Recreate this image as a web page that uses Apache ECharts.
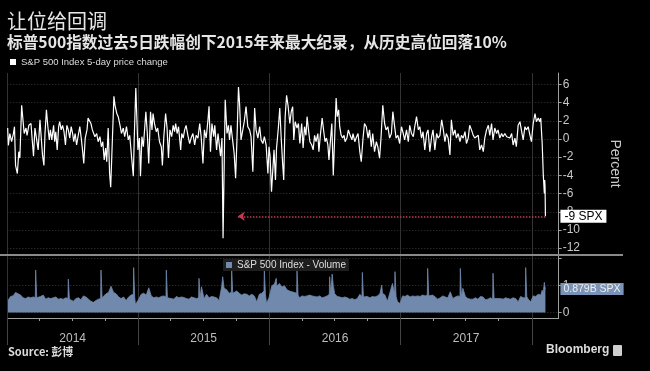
<!DOCTYPE html>
<html><head><meta charset="utf-8">
<script src="https://cdn.jsdelivr.net/npm/echarts@6/dist/echarts.min.js"></script>
<style>html,body{margin:0;padding:0;background:#000;}#c{width:650px;height:371px;}</style>
</head><body><div id="c"></div>
<script>
const titleText = '让位给回调';
const subtitleText = '标普500指数过去5日跌幅创下2015年来最大纪录，从历史高位回落10%';
const lineName = 'S&P 500 Index 5-day price change';
const volName = 'S&P 500 Index - Volume';
const sourceText = 'Source: 彭博';
const brandText = 'Bloomberg';
const pctLabelText = '-9 SPX';
const volLabelText = '0.879B SPX';
const axisName = 'Percent';

const xMin = '2014-01-01';
const xMax = '2018-03-17';
const yearStarts = ['2014-01-01','2015-01-01','2016-01-01','2017-01-01','2018-01-01'];
const yearLabelDates = ['2014-07-02','2015-07-02','2016-07-02','2017-07-02'];
const yearLabels = ['2014','2015','2016','2017'];
const quarterTicks = ['2014-04-01','2014-07-01','2014-10-01','2015-04-01','2015-07-01','2015-10-01',
  '2016-04-01','2016-07-01','2016-10-01','2017-04-01','2017-07-01','2017-10-01'];
const pctTicks = [-12,-10,-8,-6,-4,-2,0,2,4,6];
const volTicks = [0,1,2];
const volLabelTicks = [0,1];
const arrowEndDate = '2015-10-05';
const volLabelAnchorDate = '2018-01-20';

const pct2014 = [
['2014-01-02',1.2],['2014-01-04',-0.7],['2014-01-08',0.6],['2014-01-13',-0.3],['2014-01-18',0.6],['2014-01-21',1.35],['2014-01-24',-2.9],['2014-01-29',-3.8],['2014-02-02',-1.4],['2014-02-05',-2.1],['2014-02-10',3.7],['2014-02-12',3.9],['2014-02-17',0.6],['2014-02-22',1.2],['2014-02-25',0.4],['2014-03-02',1.5],['2014-03-08',1.7],['2014-03-11',0.1],['2014-03-15',-1.9],['2014-03-19',1.2],['2014-03-23',1.35],['2014-03-28',-1.2],['2014-04-02',2.1],['2014-04-04',1.0],['2014-04-09',-1.75],['2014-04-13',-2.9],['2014-04-16',0.6],['2014-04-20',3.2],['2014-04-24',1.35],['2014-04-28',-0.1],['2014-05-01',1.0],['2014-05-05',-0.1],['2014-05-10',1.5],['2014-05-13',-0.3],['2014-05-16',0.8],['2014-05-20',-1.2],['2014-05-24',1.35],['2014-05-27',1.9],['2014-05-31',1.0],['2014-06-04',1.5],['2014-06-08',0.8],['2014-06-12',-0.66],['2014-06-16',1.5],['2014-06-20',1.0],['2014-06-24',0.1],['2014-06-28',1.35],['2014-07-02',0.6],['2014-07-05',-0.3],['2014-07-09',0.6],['2014-07-13',-0.66],['2014-07-17',0.25],['2014-07-22',1.35],['2014-07-26',0.1],['2014-07-30',-1.4],['2014-08-02',-2.7],['2014-08-06',0.1],['2014-08-11',1.0],['2014-08-14',2.3],['2014-08-18',2.5],['2014-08-22',1.7],['2014-08-26',1.0],['2014-08-29',1.2],['2014-09-02',0.25],['2014-09-07',0.6],['2014-09-11',-0.3],['2014-09-16',0.25],['2014-09-20',-0.85],['2014-09-24',-0.3],['2014-09-28',-2.3],['2014-10-02',-1.0],['2014-10-05',-2.5],['2014-10-09',1.2],['2014-10-13',-3.8],['2014-10-16',-5.3],['2014-10-20',-0.85],['2014-10-25',4.7],['2014-10-28',3.7],['2014-11-02',2.8],['2014-11-06',2.45],['2014-11-11',1.5],['2014-11-15',0.6],['2014-11-20',1.2],['2014-11-24',0.25],['2014-11-29',1.35],['2014-12-04',-0.1],['2014-12-08',0.4],['2014-12-13',-1.9],['2014-12-18',-4.1],['2014-12-21',0.6],['2014-12-25',5.6],['2014-12-29',1.0],['2014-12-31',-1.2]
];
const pct2015 = [
['2015-01-04',0.1],['2015-01-07',-4.1],['2015-01-11',0.25],['2015-01-15',-0.85],['2015-01-19',1.35],['2015-01-22',3.0],['2015-01-26',0.6],['2015-01-30',-2.7],['2015-02-04',3.0],['2015-02-08',1.0],['2015-02-11',2.8],['2015-02-15',1.7],['2015-02-20',0.8],['2015-02-24',1.2],['2015-03-01',-0.3],['2015-03-06',-0.85],['2015-03-09',-2.9],['2015-03-13',0.25],['2015-03-18',2.8],['2015-03-22',1.2],['2015-03-26',-2.1],['2015-03-30',1.0],['2015-04-04',0.25],['2015-04-08',1.5],['2015-04-12',0.8],['2015-04-15',1.7],['2015-04-19',0.6],['2015-04-23',1.35],['2015-04-29',-1.2],['2015-05-02',0.6],['2015-05-06',0.1],['2015-05-10',1.0],['2015-05-14',1.5],['2015-05-19',0.4],['2015-05-24',-0.5],['2015-05-28',0.1],['2015-06-02',0.6],['2015-06-07',-0.66],['2015-06-11',0.4],['2015-06-16',0.1],['2015-06-21',1.7],['2015-06-25',0.25],['2015-06-30',-2.7],['2015-07-04',1.0],['2015-07-09',0.1],['2015-07-14',2.1],['2015-07-17',3.6],['2015-07-21',-1.4],['2015-07-25',1.7],['2015-07-30',0.25],['2015-08-02',1.5],['2015-08-07',-1.2],['2015-08-11',0.6],['2015-08-14',0.8],['2015-08-18',-1.9],['2015-08-22',0.1],['2015-08-25',-10.9],['2015-08-31',4.3],['2015-09-05',0.6],['2015-09-09',1.5],['2015-09-12',-0.1],['2015-09-16',1.5],['2015-09-20',0.1],['2015-09-25',-1.6],['2015-09-29',-4.3],['2015-10-03',0.25],['2015-10-07',5.7],['2015-10-10',3.9],['2015-10-14',-0.1],['2015-10-19',1.0],['2015-10-23',1.9],['2015-10-28',3.55],['2015-11-02',1.35],['2015-11-07',1.0],['2015-11-11',0.25],['2015-11-16',-3.6],['2015-11-21',3.4],['2015-11-25',1.0],['2015-11-30',0.1],['2015-12-05',1.35],['2015-12-09',-0.1],['2015-12-14',-0.5],['2015-12-18',0.25],['2015-12-23',-0.66],['2015-12-28',-3.8],['2015-12-31',-0.85]
];
const pct2016 = [
['2016-01-03',-1.9],['2016-01-07',-5.8],['2016-01-10',-3.8],['2016-01-14',-1.2],['2016-01-18',-4.5],['2016-01-21',-1.0],['2016-01-26',1.2],['2016-01-30',3.4],['2016-02-03',0.1],['2016-02-07',-2.7],['2016-02-10',-4.5],['2016-02-14',2.45],['2016-02-18',4.8],['2016-02-22',3.7],['2016-02-27',1.7],['2016-03-02',3.0],['2016-03-06',3.55],['2016-03-09',-0.1],['2016-03-13',1.9],['2016-03-18',1.2],['2016-03-22',1.7],['2016-03-26',-0.5],['2016-03-31',1.7],['2016-04-04',-1.0],['2016-04-08',1.35],['2016-04-12',0.4],['2016-04-15',2.45],['2016-04-19',1.0],['2016-04-23',-0.3],['2016-04-28',-0.66],['2016-05-02',-1.2],['2016-05-06',0.4],['2016-05-10',-0.3],['2016-05-15',0.6],['2016-05-18',-1.4],['2016-05-22',0.4],['2016-05-27',2.3],['2016-05-31',2.1],['2016-06-04',-0.3],['2016-06-08',0.1],['2016-06-12',-0.66],['2016-06-15',-2.3],['2016-06-20',0.25],['2016-06-23',1.7],['2016-06-27',-4.0],['2016-07-01',0.25],['2016-07-05',4.5],['2016-07-08',2.45],['2016-07-12',3.2],['2016-07-15',1.35],['2016-07-19',0.4],['2016-07-23',0.1],['2016-07-27',0.4],['2016-07-30',-0.3],['2016-08-04',0.1],['2016-08-08',1.0],['2016-08-13',0.4],['2016-08-18',-0.1],['2016-08-21',0.6],['2016-08-26',-0.3],['2016-08-31',0.25],['2016-09-04',0.6],['2016-09-09',-1.4],['2016-09-13',-2.5],['2016-09-18',0.1],['2016-09-22',1.7],['2016-09-27',1.35],['2016-10-02',0.1],['2016-10-06',1.0],['2016-10-11',-0.85],['2016-10-15',0.6],['2016-10-20',-1.4],['2016-10-25',-0.3],['2016-10-29',-0.85],['2016-11-03',-2.1],['2016-11-07',0.1],['2016-11-12',3.7],['2016-11-17',1.7],['2016-11-21',1.0],['2016-11-26',1.35],['2016-12-01',0.1],['2016-12-06',0.6],['2016-12-10',3.0],['2016-12-15',1.35],['2016-12-19',0.1],['2016-12-24',0.4],['2016-12-29',-0.5]
];
const pct2017 = [
['2017-01-03',1.35],['2017-01-08',0.6],['2017-01-12',-0.1],['2017-01-17',1.0],['2017-01-22',-0.3],['2017-01-26',1.5],['2017-01-31',0.6],['2017-02-05',0.25],['2017-02-09',1.35],['2017-02-14',2.45],['2017-02-19',1.0],['2017-02-23',1.35],['2017-02-28',0.1],['2017-03-04',0.8],['2017-03-09',-1.2],['2017-03-14',0.6],['2017-03-18',1.0],['2017-03-23',-1.4],['2017-03-28',0.25],['2017-04-01',1.0],['2017-04-06',-1.2],['2017-04-11',0.6],['2017-04-15',0.1],['2017-04-20',0.4],['2017-04-25',2.1],['2017-04-29',1.2],['2017-05-04',-0.3],['2017-05-08',0.6],['2017-05-13',0.1],['2017-05-18',-1.75],['2017-05-22',2.1],['2017-05-27',0.4],['2017-06-01',1.0],['2017-06-05',0.1],['2017-06-10',0.6],['2017-06-15',-0.3],['2017-06-19',0.4],['2017-06-24',0.1],['2017-06-29',0.8],['2017-07-03',-0.5],['2017-07-08',0.1],['2017-07-12',1.5],['2017-07-17',1.0],['2017-07-22',0.4],['2017-07-26',0.1],['2017-07-31',-0.1],['2017-08-05',0.4],['2017-08-09',-1.2],['2017-08-14',-0.66],['2017-08-19',-1.4],['2017-08-23',0.1],['2017-08-28',1.0],['2017-09-02',1.5],['2017-09-06',0.4],['2017-09-11',1.7],['2017-09-15',-0.1],['2017-09-20',1.2],['2017-09-25',0.6],['2017-09-29',1.0],['2017-10-04',0.1],['2017-10-09',0.6],['2017-10-13',0.25],['2017-10-18',0.6],['2017-10-23',0.25],['2017-10-27',0.4],['2017-11-01',0.1],['2017-11-06',0.6],['2017-11-10',-0.66],['2017-11-15',0.1],['2017-11-19',-0.85],['2017-11-24',1.5],['2017-11-29',1.9],['2017-12-03',1.0],['2017-12-08',-0.1],['2017-12-13',1.35],['2017-12-17',1.0],['2017-12-22',1.35],['2017-12-27',0.4],['2017-12-31',-0.3]
];
const pct2018 = [
['2018-01-05',1.7],['2018-01-10',2.8],['2018-01-14',1.9],['2018-01-19',2.3],['2018-01-23',1.9],['2018-01-26',2.3],['2018-01-30',-0.5],['2018-02-01',-0.66],['2018-02-02',-3.9],['2018-02-05',-6.0],['2018-02-06',-4.5],['2018-02-07',-5.2],['2018-02-08',-8.5]
];

const vol2014 = [
['2014-01-03',0.45],['2014-01-10',0.6],['2014-01-17',0.62],['2014-01-24',0.75],['2014-01-31',0.7],['2014-02-07',0.65],['2014-02-14',0.55],['2014-02-21',0.52],['2014-02-28',0.58],['2014-03-07',0.55],['2014-03-14',0.58],['2014-03-20',0.56],['2014-03-21',1.58],['2014-03-24',0.55],['2014-03-28',0.56],['2014-04-04',0.6],['2014-04-11',0.65],['2014-04-18',0.5],['2014-04-25',0.55],['2014-05-02',0.52],['2014-05-09',0.55],['2014-05-16',0.58],['2014-05-23',0.5],['2014-05-30',0.52],['2014-06-06',0.5],['2014-06-13',0.55],['2014-06-19',0.52],['2014-06-20',1.24],['2014-06-23',0.5],['2014-06-27',0.48],['2014-07-04',0.42],['2014-07-11',0.52],['2014-07-18',0.55],['2014-07-25',0.48],['2014-08-01',0.62],['2014-08-08',0.58],['2014-08-15',0.5],['2014-08-22',0.42],['2014-08-29',0.38],['2014-09-05',0.45],['2014-09-12',0.5],['2014-09-18',0.52],['2014-09-19',1.58],['2014-09-22',0.55],['2014-09-26',0.6],['2014-10-03',0.7],['2014-10-10',0.75],['2014-10-17',0.98],['2014-10-24',0.75],['2014-10-31',0.7],['2014-11-07',0.58],['2014-11-14',0.52],['2014-11-21',0.58],['2014-11-28',0.45],['2014-12-05',0.58],['2014-12-12',0.65],['2014-12-18',0.68],['2014-12-19',1.67],['2014-12-22',0.55],['2014-12-24',0.3],['2014-12-26',0.35]
];
const vol2015 = [
['2015-01-02',0.5],['2015-01-09',0.68],['2015-01-16',0.72],['2015-01-23',0.65],['2015-01-30',0.92],['2015-02-06',0.62],['2015-02-13',0.55],['2015-02-20',0.58],['2015-02-27',0.55],['2015-03-06',0.6],['2015-03-13',0.62],['2015-03-19',0.58],['2015-03-20',1.58],['2015-03-23',0.55],['2015-03-27',0.58],['2015-04-03',0.52],['2015-04-10',0.5],['2015-04-17',0.6],['2015-04-24',0.55],['2015-05-01',0.58],['2015-05-08',0.56],['2015-05-15',0.52],['2015-05-22',0.5],['2015-05-29',0.58],['2015-06-05',0.55],['2015-06-12',0.52],['2015-06-18',0.55],['2015-06-19',1.27],['2015-06-22',0.55],['2015-06-26',0.96],['2015-07-03',0.52],['2015-07-10',0.68],['2015-07-17',0.55],['2015-07-24',0.6],['2015-07-31',0.58],['2015-08-07',0.55],['2015-08-14',0.45],['2015-08-21',0.95],['2015-08-24',1.33],['2015-08-28',0.9],['2015-09-04',0.85],['2015-09-11',0.72],['2015-09-17',0.75],['2015-09-18',1.64],['2015-09-21',0.72],['2015-09-25',0.78],['2015-10-02',0.8],['2015-10-09',0.72],['2015-10-16',0.65],['2015-10-23',0.7],['2015-10-30',0.68],['2015-11-06',0.62],['2015-11-13',0.68],['2015-11-20',0.62],['2015-11-27',0.4],['2015-12-04',0.68],['2015-12-11',0.72],['2015-12-17',0.8],['2015-12-18',1.58],['2015-12-21',0.7],['2015-12-24',0.35],['2015-12-31',0.55]
];
const vol2016 = [
['2016-01-08',1.0],['2016-01-15',1.05],['2016-01-20',1.27],['2016-01-22',0.98],['2016-01-29',1.08],['2016-02-05',0.95],['2016-02-12',1.0],['2016-02-19',0.85],['2016-02-26',0.8],['2016-03-04',0.77],['2016-03-11',0.75],['2016-03-17',0.72],['2016-03-18',1.58],['2016-03-21',0.65],['2016-03-25',0.55],['2016-04-01',0.62],['2016-04-08',0.6],['2016-04-15',0.62],['2016-04-22',0.65],['2016-04-29',0.62],['2016-05-06',0.6],['2016-05-13',0.58],['2016-05-20',0.62],['2016-05-27',0.55],['2016-06-03',0.58],['2016-06-10',0.62],['2016-06-16',0.68],['2016-06-17',1.33],['2016-06-20',0.7],['2016-06-24',1.43],['2016-06-27',1.0],['2016-07-01',0.7],['2016-07-08',0.6],['2016-07-15',0.58],['2016-07-22',0.55],['2016-07-29',0.58],['2016-08-05',0.55],['2016-08-12',0.5],['2016-08-19',0.52],['2016-08-26',0.48],['2016-09-02',0.52],['2016-09-09',0.68],['2016-09-15',0.6],['2016-09-16',1.49],['2016-09-19',0.58],['2016-09-23',0.6],['2016-09-30',0.6],['2016-10-07',0.55],['2016-10-14',0.6],['2016-10-21',0.58],['2016-10-28',0.62],['2016-11-04',0.7],['2016-11-09',1.02],['2016-11-11',0.72],['2016-11-18',0.65],['2016-11-25',0.42],['2016-12-02',0.75],['2016-12-09',1.08],['2016-12-15',0.7],['2016-12-16',1.52],['2016-12-19',0.6],['2016-12-23',0.4],['2016-12-30',0.34]
];
const vol2017 = [
['2017-01-06',0.62],['2017-01-13',0.6],['2017-01-20',0.65],['2017-01-27',0.58],['2017-02-03',0.62],['2017-02-10',0.6],['2017-02-17',0.62],['2017-02-24',0.6],['2017-03-03',0.65],['2017-03-10',0.62],['2017-03-16',0.65],['2017-03-17',1.64],['2017-03-20',0.62],['2017-03-24',0.6],['2017-03-31',0.65],['2017-04-07',0.58],['2017-04-14',0.5],['2017-04-21',0.55],['2017-04-28',0.62],['2017-05-05',0.58],['2017-05-12',0.55],['2017-05-19',0.77],['2017-05-26',0.52],['2017-06-02',0.58],['2017-06-09',0.62],['2017-06-15',0.6],['2017-06-16',1.64],['2017-06-19',0.58],['2017-06-23',0.9],['2017-06-30',0.6],['2017-07-07',0.52],['2017-07-14',0.5],['2017-07-21',0.5],['2017-07-28',0.55],['2017-08-04',0.5],['2017-08-11',0.6],['2017-08-18',0.58],['2017-08-25',0.48],['2017-09-01',0.5],['2017-09-08',0.55],['2017-09-14',0.5],['2017-09-15',1.46],['2017-09-18',0.52],['2017-09-22',0.5],['2017-09-29',0.52],['2017-10-06',0.52],['2017-10-13',0.5],['2017-10-20',0.55],['2017-10-27',0.52],['2017-11-03',0.5],['2017-11-10',0.55],['2017-11-17',0.52],['2017-11-24',0.4],['2017-12-01',0.6],['2017-12-08',0.55],['2017-12-14',0.55],['2017-12-15',1.67],['2017-12-18',0.6],['2017-12-22',0.5],['2017-12-29',0.4]
];
const vol2018 = [
['2018-01-05',0.62],['2018-01-12',0.6],['2018-01-19',0.68],['2018-01-26',0.65],['2018-01-30',0.83],['2018-02-02',0.75],['2018-02-05',1.12],['2018-02-06',1.0],['2018-02-08',0.879]
];

const ts = d => +echarts.number.parseDate(d);
const toPoints = arr => arr.map(p => [ts(p[0]), p[1]]);
const pctData = toPoints([].concat(pct2014, pct2015, pct2016, pct2017, pct2018));
const volData = toPoints([].concat(vol2014, vol2015, vol2016, vol2017, vol2018));
const lastPct = pctData[pctData.length - 1];
const lastVol = volData[volData.length - 1];
const yearStartTs = yearStarts.map(ts);
const yearLabelTs = yearLabelDates.map(ts);
const quarterTs = quarterTicks.map(ts);

const FONT = 'Liberation Sans';
const CJK = 'Noto Sans CJK SC';
const gridLineColor = '#3a3a3a';
const axisColor = '#a0a0a0';
const labelColor = '#c8c8c8';
const volColor = '#7189ad';

const chart = echarts.init(document.getElementById('c'), null, {renderer: 'canvas'});
chart.setOption({
  backgroundColor: '#000',
  animation: false,
  textStyle: {fontFamily: FONT},
  title: [
    {text: titleText, left: 7, top: 11, padding: 0,
     textStyle: {color: '#e6e6e6', fontSize: 20, fontWeight: 'normal', fontFamily: CJK}},
    {text: subtitleText, left: 7, top: 34, padding: 0,
     textStyle: {color: '#e6e6e6', fontSize: 15.7, fontWeight: 'bold', fontFamily: CJK}},
    {text: sourceText, left: 8, top: 346, padding: 0,
     textStyle: {color: '#dddddd', fontSize: 11, fontWeight: 'bold', fontFamily: CJK}},
    {text: brandText, left: 546, top: 344, padding: 0,
     textStyle: {color: '#dddddd', fontSize: 12, fontWeight: 'bold', fontFamily: FONT}}
  ],
  legend: [
    {data: [lineName], left: 10, top: 57, padding: 0, icon: 'rect', itemWidth: 6, itemHeight: 6, itemGap: 4,
     textStyle: {color: '#dddddd', fontSize: 9.5, fontFamily: FONT}, selectedMode: false},
    {data: [volName], left: 223, top: 259, padding: [1, 3, 1, 3], icon: 'rect', itemWidth: 6, itemHeight: 6,
     backgroundColor: '#1e1e1e', textStyle: {color: '#dddddd', fontSize: 10, fontFamily: FONT}, selectedMode: false}
  ],
  grid: [
    {left: 7.3, right: 91.3, top: 73, height: 181, outerBoundsMode: 'none', containLabel: false},
    {left: 7.3, right: 91.3, top: 256, height: 62, outerBoundsMode: 'none', containLabel: false}
  ],
  xAxis: [
    {type: 'value', gridIndex: 0, min: ts(xMin), max: ts(xMax), position: 'bottom',
     axisLine: {show: false, onZero: false},
     axisTick: {show: false, customValues: yearStartTs},
     axisLabel: {show: false},
     splitLine: {show: true, lineStyle: {color: '#333333', width: 1}}},
    {type: 'value', gridIndex: 1, min: ts(xMin), max: ts(xMax), position: 'bottom',
     axisLine: {show: true, onZero: false, lineStyle: {color: axisColor, width: 1}},
     axisTick: {show: true, customValues: yearStartTs, length: 27, lineStyle: {color: '#444444'}},
     axisLabel: {show: true, customValues: yearLabelTs, margin: 15, color: '#bdbdbd', fontSize: 12,
       formatter: function (v) { const i = yearLabelTs.indexOf(v); return i >= 0 ? yearLabels[i] : ''; }},
     splitLine: {show: true, lineStyle: {color: '#333333', width: 1}}},
    {type: 'value', gridIndex: 1, min: ts(xMin), max: ts(xMax), position: 'bottom',
     axisLine: {show: false, onZero: false},
     axisTick: {show: true, customValues: quarterTs, length: 3, lineStyle: {color: axisColor}},
     axisLabel: {show: false},
     splitLine: {show: false}}
  ],
  yAxis: [
    {type: 'value', gridIndex: 0, position: 'right', min: -12.64, max: 7.25,
     axisLine: {show: true, onZero: false, lineStyle: {color: axisColor}},
     axisTick: {show: true, customValues: pctTicks, length: 3, lineStyle: {color: axisColor}},
     axisLabel: {show: true, customValues: pctTicks, margin: 4, color: labelColor, fontSize: 12},
     splitLine: {show: true, lineStyle: {color: gridLineColor, type: [1, 2]}},
     name: axisName, nameLocation: 'middle', nameRotate: -90, nameGap: 49,
     nameTextStyle: {color: labelColor, fontSize: 14, fontFamily: FONT}},
    {type: 'value', gridIndex: 1, position: 'right', min: -0.2, max: 2.1,
     axisLine: {show: true, onZero: false, lineStyle: {color: axisColor}},
     axisTick: {show: true, customValues: volTicks, length: 3, lineStyle: {color: axisColor}},
     axisLabel: {show: true, customValues: volLabelTicks, margin: 4, color: labelColor, fontSize: 12},
     splitLine: {show: true, lineStyle: {color: gridLineColor, type: [1, 2]}}}
  ],
  series: [
    {name: lineName, type: 'line', xAxisIndex: 0, yAxisIndex: 0, data: pctData,
     showSymbol: false, symbol: 'none', z: 3,
     itemStyle: {color: '#ffffff'}, lineStyle: {color: '#ffffff', width: 1.2},
     markLine: {silent: true, symbol: ['none', 'arrow'], symbolSize: 7,
       lineStyle: {color: '#c43a50', type: [1.5, 1.5], width: 1.5},
       label: {show: true, position: 'start', distance: 15, formatter: pctLabelText,
         color: '#000', backgroundColor: '#ffffff', padding: [1, 4, 0, 4], fontSize: 12, fontFamily: FONT},
       data: [[{coord: [lastPct[0], lastPct[1]]}, {coord: [ts(arrowEndDate), lastPct[1]]}]]}},
    {name: volName, type: 'line', xAxisIndex: 1, yAxisIndex: 1, data: volData,
     showSymbol: false, symbol: 'none',
     itemStyle: {color: volColor}, lineStyle: {color: volColor, width: 0.8},
     areaStyle: {color: volColor, opacity: 1},
     markLine: {silent: true, symbol: ['none', 'none'],
       lineStyle: {color: 'rgba(0,0,0,0)', width: 0},
       label: {show: true, position: 'start', distance: 15, formatter: volLabelText,
         color: '#eeeeee', backgroundColor: '#7b93b6', padding: [1, 3, 0, 3], fontSize: 10.5, fontFamily: FONT},
       data: [[{coord: [lastVol[0], lastVol[1]]}, {coord: [ts(volLabelAnchorDate), lastVol[1]]}]]}}
  ],
  graphic: [
    {type: 'line', shape: {x1: 0, y1: 255, x2: 623, y2: 255}, style: {stroke: '#8a8a8a', lineWidth: 2}, z: 10},
    {type: 'rect', shape: {x: 613, y: 345, width: 9, height: 11, r: 1}, style: {fill: '#cfcfcf'}}
  ]
});
</script>
</body></html>
